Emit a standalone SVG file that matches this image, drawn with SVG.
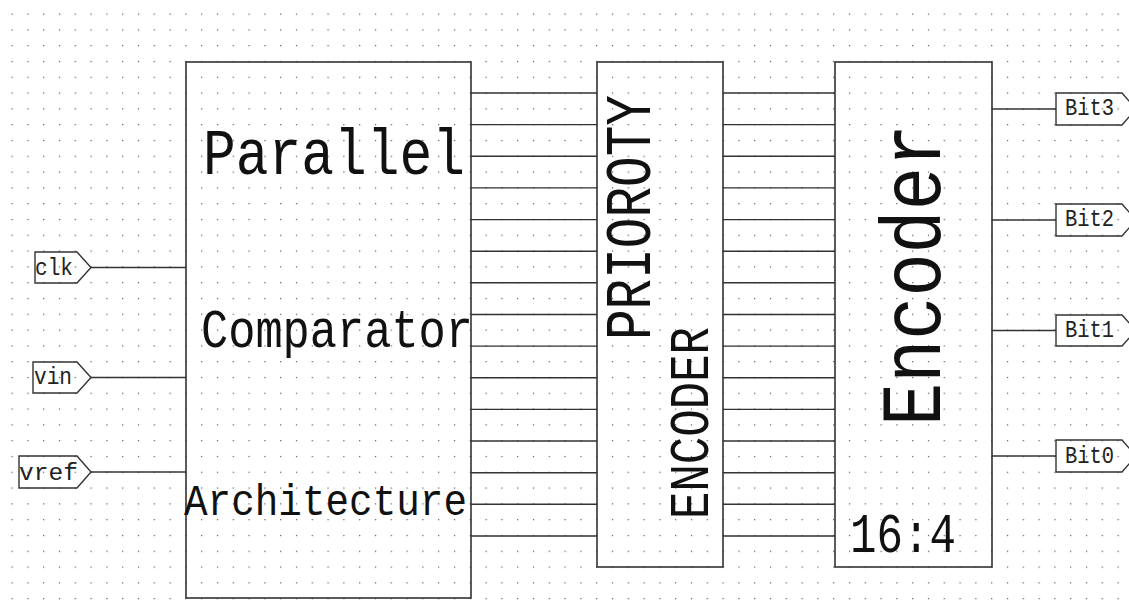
<svg xmlns="http://www.w3.org/2000/svg" width="1129" height="612" viewBox="0 0 1129 612">
  <defs>
    <!-- schematic sheet dot grid -->
    <pattern id="grid" x="11.5" y="13.5" width="15.8" height="15.8" patternUnits="userSpaceOnUse">
      <rect x="0" y="0" width="1.2" height="1.2" fill="#555"/>
    </pattern>
    <style>
      .box { fill: none; stroke: #333; stroke-width: 1.6; }
      .wire { fill: none; stroke: #333; stroke-width: 1.4; }
      .port { fill: none; stroke: #333; stroke-width: 1.4; }
      .t { font-family: "Liberation Mono", "DejaVu Sans Mono", monospace; fill: #111; }
      .lbl { font-family: "Liberation Mono", "DejaVu Sans Mono", monospace; fill: #222; font-size: 20px; }
    </style>
  </defs>

  <rect width="1129" height="612" fill="#fff"/>
  <rect width="1129" height="612" fill="url(#grid)"/>

  <!-- wiring -->
  <g id="connectors">
    <!-- inputs into the comparator bank -->
    <line class="wire" x1="91" y1="267.5" x2="186" y2="267.5"/>
    <line class="wire" x1="91" y1="377.5" x2="186" y2="377.5"/>
    <line class="wire" x1="91" y1="472" x2="186" y2="472"/>
    <!-- comparator outputs to priority encoder -->
    <path class="wire" d="M471 93H597 M471 124.6H597 M471 156.3H597 M471 187.9H597 M471 219.6H597 M471 251.2H597 M471 282.8H597 M471 314.5H597 M471 346.1H597 M471 377.8H597 M471 409.4H597 M471 441H597 M471 472.7H597 M471 504.3H597 M471 536H597"/>
    <!-- priority encoder to 16:4 encoder -->
    <path class="wire" d="M723 93H835 M723 124.6H835 M723 156.3H835 M723 187.9H835 M723 219.6H835 M723 251.2H835 M723 282.8H835 M723 314.5H835 M723 346.1H835 M723 377.8H835 M723 409.4H835 M723 441H835 M723 472.7H835 M723 504.3H835 M723 536H835"/>
    <!-- encoder outputs -->
    <line class="wire" x1="992" y1="109" x2="1056" y2="109"/>
    <line class="wire" x1="992" y1="220" x2="1056" y2="220"/>
    <line class="wire" x1="992" y1="330.5" x2="1056" y2="330.5"/>
    <line class="wire" x1="992" y1="456" x2="1056" y2="456"/>
  </g>

  <!-- input ports -->
  <g id="port-clk">
    <path class="port" d="M35 252H77L91 267.5L77 283H35Z"/>
    <text class="lbl" x="35" y="275" textLength="38" lengthAdjust="spacingAndGlyphs" transform="translate(0,275) scale(1,1.15) translate(0,-275)">clk</text>
  </g>
  <g id="port-vin">
    <path class="port" d="M33 362H77L91 377.5L77 393H33Z"/>
    <text class="lbl" x="34" y="384" textLength="38" lengthAdjust="spacingAndGlyphs" transform="translate(0,384) scale(1,1.15) translate(0,-384)">vin</text>
  </g>
  <g id="port-vref">
    <path class="port" d="M19 456H77L91 472L77 488H19Z"/>
    <text class="lbl" x="19" y="480" textLength="59" lengthAdjust="spacingAndGlyphs" transform="translate(0,480) scale(1,1.15) translate(0,-480)">vref</text>
  </g>

  <!-- parallel comparator block -->
  <g id="comparator">
    <rect class="box" x="186" y="62" width="285" height="536"/>
    <text class="t" font-size="54" x="0" y="0" textLength="262" lengthAdjust="spacingAndGlyphs" transform="translate(203,174) scale(1,1.2)">Parallel</text>
    <text class="t" font-size="45" x="0" y="0" textLength="272" lengthAdjust="spacingAndGlyphs" transform="translate(201,347) scale(1,1.2)">Comparator</text>
    <text class="t" font-size="39" x="0" y="0" textLength="283" lengthAdjust="spacingAndGlyphs" transform="translate(184,515) scale(1,1.15)">Architecture</text>
  </g>

  <!-- priority encoder block -->
  <g id="priority-encoder">
    <rect class="box" x="597" y="62" width="126" height="505"/>
    <text class="t" font-size="51" x="0" y="0" textLength="245" lengthAdjust="spacingAndGlyphs" transform="translate(650,340) rotate(-90) scale(1,1.27)">PRIOROTY</text>
    <text class="t" font-size="45.6" x="0" y="0" textLength="192" lengthAdjust="spacingAndGlyphs" transform="translate(708,519) rotate(-90) scale(1,1.21)">ENCODER</text>
  </g>

  <!-- 16:4 encoder block -->
  <g id="encoder">
    <rect class="box" x="835" y="62" width="157" height="505"/>
    <text class="t" font-size="72" x="0" y="0" textLength="302" lengthAdjust="spacingAndGlyphs" transform="translate(940,426) rotate(-90) scale(1,1.18)">Encoder</text>
    <text class="t" font-size="44" x="0" y="0" textLength="106" lengthAdjust="spacingAndGlyphs" transform="translate(850,552) scale(1,1.25)">16:4</text>
  </g>

  <!-- output ports -->
  <g id="port-bit3">
    <path class="port" d="M1056 93H1122L1136 109L1122 125H1056Z"/>
    <text class="lbl" x="1065" y="115" textLength="49" lengthAdjust="spacingAndGlyphs" transform="translate(0,115) scale(1,1.15) translate(0,-115)">Bit3</text>
  </g>
  <g id="port-bit2">
    <path class="port" d="M1056 204H1122L1136 220L1122 236H1056Z"/>
    <text class="lbl" x="1065" y="226" textLength="49" lengthAdjust="spacingAndGlyphs" transform="translate(0,226) scale(1,1.15) translate(0,-226)">Bit2</text>
  </g>
  <g id="port-bit1">
    <path class="port" d="M1056 315H1122L1136 330.5L1122 346H1056Z"/>
    <text class="lbl" x="1065" y="337" textLength="49" lengthAdjust="spacingAndGlyphs" transform="translate(0,337) scale(1,1.15) translate(0,-337)">Bit1</text>
  </g>
  <g id="port-bit0">
    <path class="port" d="M1056 440H1122L1136 456L1122 472H1056Z"/>
    <text class="lbl" x="1065" y="463" textLength="49" lengthAdjust="spacingAndGlyphs" transform="translate(0,463) scale(1,1.15) translate(0,-463)">Bit0</text>
  </g>
</svg>
